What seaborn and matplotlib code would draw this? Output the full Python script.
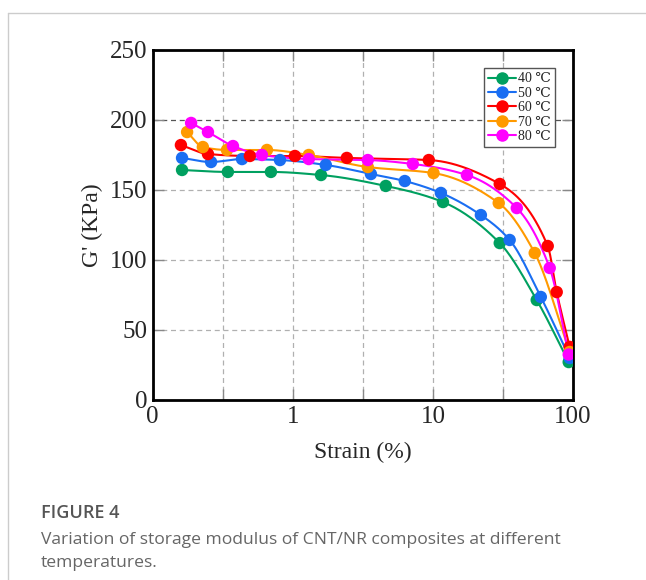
import numpy as np
import pandas as pd
import matplotlib
matplotlib.use("Agg")
import matplotlib.pyplot as plt
from matplotlib.lines import Line2D
from matplotlib.ticker import FixedLocator, FixedFormatter, NullFormatter
import seaborn as sns

# ---------------- data ----------------
labels = ["40 ℃", "50 ℃", "60 ℃", "70 ℃", "80 ℃"]
colors = ["#00a060", "#1a6ef2", "#ff0000", "#ff9a00", "#ff00ff"]

strain_40 = [0.162, 0.344, 0.698, 1.59, 4.61, 11.8, 30.0, 55.1, 93.2]
g_40 = [164.3, 162.9, 162.9, 160.7, 152.9, 141.4, 112.1, 71.4, 27.1]

strain_50 = [0.162, 0.261, 0.434, 0.81, 1.72, 3.61, 6.30, 11.4, 22.0, 35.3, 58.9, 94.7]
g_50 = [172.9, 170.0, 172.1, 171.4, 167.9, 161.4, 156.4, 147.9, 132.1, 114.3, 73.6, 30.0]

strain_60 = [0.159, 0.248, 0.494, 1.035, 2.43, 9.35, 30.0, 66.0, 76.5, 94.7]
g_60 = [182.1, 175.7, 174.3, 174.3, 172.9, 171.4, 154.3, 110.0, 77.1, 37.9]

strain_70 = [0.176, 0.228, 0.339, 0.654, 1.30, 3.43, 10.1, 29.5, 53.3, 94.7]
g_70 = [191.4, 180.7, 178.6, 178.6, 175.0, 166.4, 162.1, 140.7, 105.0, 34.3]

strain_80 = [0.188, 0.248, 0.374, 0.602, 1.30, 3.43, 7.19, 17.5, 39.7, 68.2, 93.2]
g_80 = [197.9, 191.4, 181.4, 175.0, 172.1, 171.4, 168.6, 160.7, 137.1, 94.3, 32.5]

x_ticks = [0.1, 1, 10, 100]
x_tick_labels = ["0", "1", "10", "100"]
y_ticks = [0, 50, 100, 150, 200, 250]

series = [(strain_40, g_40), (strain_50, g_50), (strain_60, g_60),
          (strain_70, g_70), (strain_80, g_80)]


def pchip(x, y, xn):
    x = np.asarray(x, float); y = np.asarray(y, float)
    h = np.diff(x); d = np.diff(y) / h
    n = len(x); m = np.zeros(n)
    for k in range(1, n - 1):
        if d[k - 1] * d[k] <= 0:
            m[k] = 0.0
        else:
            w1 = 2 * h[k] + h[k - 1]; w2 = h[k] + 2 * h[k - 1]
            m[k] = (w1 + w2) / (w1 / d[k - 1] + w2 / d[k])
    m[0] = d[0]; m[-1] = d[-1]
    idx = np.clip(np.searchsorted(x, xn) - 1, 0, n - 2)
    t = (xn - x[idx]) / h[idx]
    h00 = 2 * t**3 - 3 * t**2 + 1; h10 = t**3 - 2 * t**2 + t
    h01 = -2 * t**3 + 3 * t**2; h11 = t**3 - t**2
    return h00 * y[idx] + h10 * h[idx] * m[idx] + h01 * y[idx + 1] + h11 * h[idx] * m[idx + 1]


pts_rows, curve_rows = [], []
for lab, (sx, gy) in zip(labels, series):
    for a, b in zip(sx, gy):
        pts_rows.append({"strain": a, "G": b, "T": lab})
    lx = np.log10(sx)
    xs = np.linspace(lx[0], lx[-1], 300)
    ys = pchip(lx, gy, xs)
    for a, b in zip(10 ** xs, ys):
        curve_rows.append({"strain": a, "G": b, "T": lab})
pts = pd.DataFrame(pts_rows)
curves = pd.DataFrame(curve_rows)

# ---------------- figure ----------------
sns.set_theme(style="white")
plt.rcParams["font.family"] = ["Liberation Serif", "DejaVu Serif"]

fig = plt.figure(figsize=(6.46, 5.80), dpi=100)
ax = fig.add_axes([152.7 / 646, 1 - 400 / 580, (573 - 152.7) / 646, 350 / 580])
ax.set_xscale("log")

pal = dict(zip(labels, colors))
sns.lineplot(data=curves, x="strain", y="G", hue="T", palette=pal, sort=False,
             estimator=None, linewidth=1.5, legend=False, ax=ax, zorder=3)
sns.scatterplot(data=pts, x="strain", y="G", hue="T", palette=pal, s=80,
                edgecolor="none", legend=False, ax=ax, zorder=4)

ax.set_xlim(0.1, 100)
ax.set_ylim(0, 250)
ax.xaxis.set_major_locator(FixedLocator(x_ticks))
ax.xaxis.set_major_formatter(FixedFormatter(x_tick_labels))
ax.xaxis.set_minor_locator(FixedLocator([10 ** -0.5, 10 ** 0.5, 10 ** 1.5]))
ax.xaxis.set_minor_formatter(NullFormatter())
ax.set_yticks(y_ticks)
ax.set_yticklabels([str(v) for v in y_ticks])

ax.grid(True, which="both", axis="x", linestyle=(0, (4, 3)), color="#b0b0b0", linewidth=0.9)
ax.grid(True, which="major", axis="y", linestyle=(0, (4, 3)), color="#b0b0b0", linewidth=0.9)
gl = ax.yaxis.get_gridlines()
gl[4].set_color("#555555")

ax.tick_params(which="both", direction="in", length=8, width=1.0, color="#888888",
               top=True, right=True, bottom=True, left=True, labelsize=18, pad=4)
for sp in ax.spines.values():
    sp.set_color("black"); sp.set_linewidth(2.0)

ax.set_xlabel("Strain (%)", fontsize=17, labelpad=10)
ax.set_ylabel("G' (KPa)", fontsize=17, labelpad=5)

handles = [Line2D([0], [0], color=c, marker="o", markersize=8, linewidth=1.5) for c in colors]
leg = ax.legend(handles, labels, loc="upper right", bbox_to_anchor=(0.958, 0.948),
                prop={"family": ["Liberation Serif", "DejaVu Serif"], "size": 10},
                frameon=True, fancybox=False, framealpha=1, edgecolor="#555555",
                handlelength=2.0, handletextpad=0.2, labelspacing=0.1,
                borderpad=0.3, borderaxespad=0)
leg.get_frame().set_linewidth(1.0)

# page frame lines
fig.add_artist(Line2D([8 / 646, 1], [1 - 13 / 580, 1 - 13 / 580], color="#cccccc", lw=1))
fig.add_artist(Line2D([8 / 646, 8 / 646], [0, 1 - 13 / 580], color="#cccccc", lw=1))

cap_font = ["Open Sans", "DejaVu Sans"]
fig.text(41 / 646, 1 - 513 / 580, "FIGURE 4", fontsize=13, color="#555555",
         family=cap_font, va="center", ha="left", fontweight="semibold")
fig.text(41 / 646, 1 - 540 / 580,
         "Variation of storage modulus of CNT/NR composites at different",
         fontsize=12.6, color="#666666", family=cap_font, va="center", ha="left")
fig.text(41 / 646, 1 - 563 / 580, "temperatures.", fontsize=12.6, color="#666666",
         family=cap_font, va="center", ha="left")

fig.savefig("out.png", dpi=100)
